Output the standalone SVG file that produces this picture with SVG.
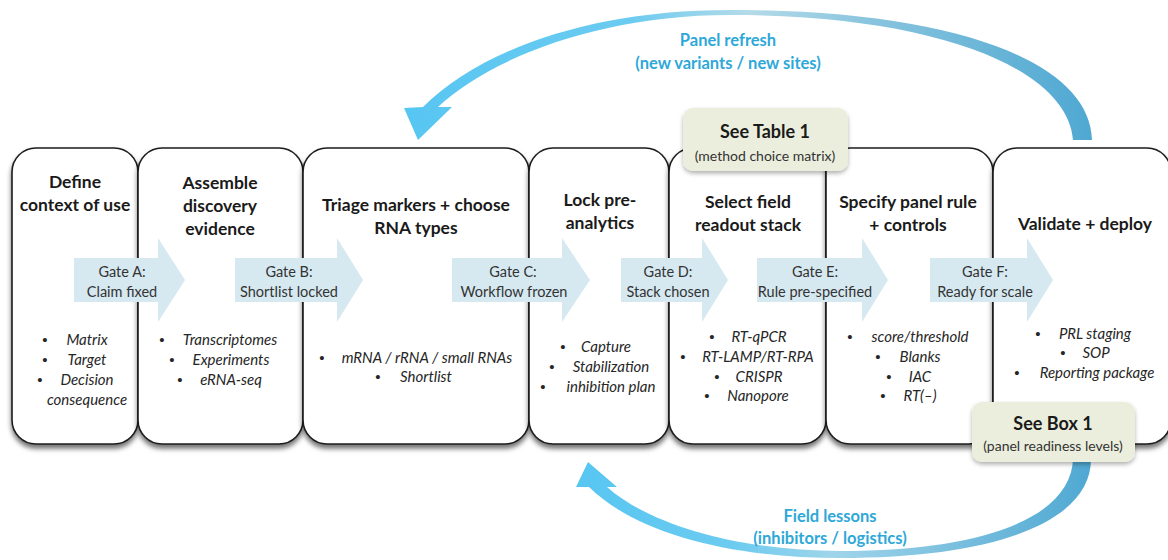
<svg xmlns="http://www.w3.org/2000/svg" width="1168" height="560" viewBox="0 0 1168 560">
  <defs>
    <filter id="boxShadow" x="-10%" y="-10%" width="120%" height="125%">
      <feDropShadow dx="0" dy="4" stdDeviation="2.6" flood-color="#000" flood-opacity="0.55"/>
    </filter>
    <filter id="noteShadow" x="-15%" y="-20%" width="130%" height="150%">
      <feDropShadow dx="0" dy="2.5" stdDeviation="2.2" flood-color="#000" flood-opacity="0.3"/>
    </filter>
    <linearGradient id="loopTop" gradientUnits="userSpaceOnUse" x1="404" y1="0" x2="1092" y2="0">
      <stop offset="0" stop-color="#57c6f2"/>
      <stop offset="0.33" stop-color="#6ccbf0"/>
      <stop offset="0.5" stop-color="#b4dbe8"/>
      <stop offset="0.68" stop-color="#88c4de"/>
      <stop offset="1" stop-color="#4fa8d2"/>
    </linearGradient>
    <linearGradient id="loopBottom" gradientUnits="userSpaceOnUse" x1="577" y1="0" x2="1092" y2="0">
      <stop offset="0" stop-color="#57c6f2"/>
      <stop offset="0.3" stop-color="#6ccbf0"/>
      <stop offset="0.5" stop-color="#9fd5ea"/>
      <stop offset="0.7" stop-color="#7fc2e0"/>
      <stop offset="1" stop-color="#4fa8d2"/>
    </linearGradient>
  </defs>
  <style>
    .stage { fill: #ffffff; stroke: #1c1c1c; stroke-width: 1.6; filter: url(#boxShadow); }
    .title { font-family: Lato, "Liberation Sans", sans-serif; font-weight: bold; font-size: 17.5px; fill: #1a1a1a; text-anchor: middle; }
    .item { font-family: Lato, "Liberation Sans", sans-serif; font-style: italic; font-size: 15px; fill: #262626; text-anchor: middle; }
    .dot { font-family: "Liberation Sans", sans-serif; font-size: 15px; fill: #262626; text-anchor: middle; }
    .gate { fill: #d6e9f1; }
    .gatetext { font-family: Lato, "Liberation Sans", sans-serif; font-size: 14.5px; fill: #333333; text-anchor: middle; }
    .note { fill: #ebeedd; filter: url(#noteShadow); }
    .notehead { font-family: Lato, "Liberation Sans", sans-serif; font-weight: bold; font-size: 18px; fill: #1a1a1a; text-anchor: middle; }
    .notesub { font-family: Lato, "Liberation Sans", sans-serif; font-size: 14px; fill: #333333; text-anchor: middle; }
    .looptext { font-family: Lato, "Liberation Sans", sans-serif; font-weight: bold; font-size: 16.5px; fill: #2ea8d8; text-anchor: middle; }
  </style>

  <rect width="1168" height="560" fill="#ffffff"/>

  <!-- Stage boxes -->
  <g id="stage-define">
    <rect class="stage" x="12" y="148" width="126" height="296" rx="24"/>
    <text class="title" x="75" y="188">Define</text>
    <text class="title" x="75" y="211">context of use</text>
    <text class="dot" x="45" y="345">•</text><text class="item" x="87" y="345">Matrix</text>
    <text class="dot" x="45" y="365">•</text><text class="item" x="87" y="365">Target</text>
    <text class="dot" x="40" y="385">•</text><text class="item" x="87" y="385">Decision</text>
    <text class="item" x="87" y="405">consequence</text>
  </g>

  <g id="stage-assemble">
    <rect class="stage" x="138" y="148" width="165" height="296" rx="24"/>
    <text class="title" x="220" y="189">Assemble</text>
    <text class="title" x="220" y="212">discovery</text>
    <text class="title" x="220" y="235">evidence</text>
    <text class="dot" x="162" y="345">•</text><text class="item" x="230" y="345">Transcriptomes</text>
    <text class="dot" x="172" y="365">•</text><text class="item" x="231" y="365">Experiments</text>
    <text class="dot" x="180" y="385">•</text><text class="item" x="231" y="385">eRNA-seq</text>
  </g>

  <g id="stage-triage">
    <rect class="stage" x="303" y="148" width="226" height="296" rx="24"/>
    <text class="title" x="416" y="211">Triage markers + choose</text>
    <text class="title" x="416" y="234">RNA types</text>
    <text class="dot" x="322" y="363">•</text><text class="item" x="427" y="363">mRNA / rRNA / small RNAs</text>
    <text class="dot" x="378" y="382">•</text><text class="item" x="426" y="382">Shortlist</text>
  </g>

  <g id="stage-preanalytics">
    <rect class="stage" x="529" y="148" width="140" height="296" rx="24"/>
    <text class="title" x="600" y="206">Lock pre-</text>
    <text class="title" x="600" y="229">analytics</text>
    <text class="dot" x="563" y="352">•</text><text class="item" x="606" y="352">Capture</text>
    <text class="dot" x="552" y="372">•</text><text class="item" x="611" y="372">Stabilization</text>
    <text class="dot" x="543" y="392">•</text><text class="item" x="611" y="392">inhibition plan</text>
  </g>

  <g id="stage-readout">
    <rect class="stage" x="669" y="148" width="157" height="296" rx="24"/>
    <text class="title" x="748" y="208">Select field</text>
    <text class="title" x="748" y="231">readout stack</text>
    <text class="dot" x="712" y="342">•</text><text class="item" x="759" y="342">RT-qPCR</text>
    <text class="dot" x="683" y="362">•</text><text class="item" x="758" y="362">RT-LAMP/RT-RPA</text>
    <text class="dot" x="717" y="382">•</text><text class="item" x="759" y="382">CRISPR</text>
    <text class="dot" x="707" y="401">•</text><text class="item" x="758" y="401">Nanopore</text>
  </g>

  <g id="stage-rule">
    <rect class="stage" x="826" y="148" width="167" height="296" rx="24"/>
    <text class="title" x="908" y="208">Specify panel rule</text>
    <text class="title" x="908" y="231">+ controls</text>
    <text class="dot" x="850" y="342">•</text><text class="item" x="920" y="342">score/threshold</text>
    <text class="dot" x="878" y="362">•</text><text class="item" x="920" y="362">Blanks</text>
    <text class="dot" x="889" y="382">•</text><text class="item" x="920" y="382">IAC</text>
    <text class="dot" x="883" y="401">•</text><text class="item" x="920" y="401">RT(–)</text>
  </g>

  <g id="stage-deploy">
    <rect class="stage" x="993" y="148" width="178" height="296" rx="24"/>
    <text class="title" x="1085" y="230">Validate + deploy</text>
    <text class="dot" x="1038" y="339">•</text><text class="item" x="1095" y="339">PRL staging</text>
    <text class="dot" x="1063" y="358">•</text><text class="item" x="1096" y="358">SOP</text>
    <text class="dot" x="1017" y="378">•</text><text class="item" x="1097" y="378">Reporting package</text>
  </g>

  <!-- Connectors: gate arrows and feedback loops -->
  <g id="connectors">
    <g id="gate-a">
      <polygon class="gate" points="74,258 158,258 158,238 185,280 158,322 158,302 74,302"/>
      <text class="gatetext" x="122" y="277">Gate A:</text>
      <text class="gatetext" x="122" y="297">Claim fixed</text>
    </g>
    <g id="gate-b">
      <polygon class="gate" points="235,258 337,258 337,238 363,280 337,322 337,302 235,302"/>
      <text class="gatetext" x="289" y="277">Gate B:</text>
      <text class="gatetext" x="289" y="297">Shortlist locked</text>
    </g>
    <g id="gate-c">
      <polygon class="gate" points="452,258 562,258 562,238 590,280 562,322 562,302 452,302"/>
      <text class="gatetext" x="513" y="277">Gate C:</text>
      <text class="gatetext" x="514" y="297">Workflow  frozen</text>
    </g>
    <g id="gate-d">
      <polygon class="gate" points="621,258 702,258 702,238 728,280 702,322 702,302 621,302"/>
      <text class="gatetext" x="668" y="277">Gate D:</text>
      <text class="gatetext" x="668" y="297">Stack chosen</text>
    </g>
    <g id="gate-e">
      <polygon class="gate" points="757,258 862,258 862,238 888,280 862,322 862,302 757,302"/>
      <text class="gatetext" x="815" y="277">Gate E:</text>
      <text class="gatetext" x="815" y="297">Rule pre-specified</text>
    </g>
    <g id="gate-f">
      <polygon class="gate" points="930,258 1027,258 1027,238 1053,280 1027,322 1027,302 930,302"/>
      <text class="gatetext" x="985" y="277">Gate F:</text>
      <text class="gatetext" x="985" y="297">Ready for scale</text>
    </g>

    <!-- refresh loop over the top, back into triage -->
    <path id="loop-refresh" fill="url(#loopTop)"
          d="M1092,140 C1090,60 950,10 730,10 C590,10 480,50 423,107 L404,108 L418,140 L452,107 L438,107 C490,58 600,15 730,15 C940,15 1068,70 1073,140 Z"/>
    <!-- field lessons loop underneath, back into pre-analytics -->
    <path id="loop-lessons" fill="url(#loopBottom)"
          d="M1091,458 C1092,520 1000,558 840,558 C740,558 640,537 589,487 L576,487 L588,462 L617,487 L607,487 C652,527 745,551 840,551 C990,551 1072,515 1073,458 Z"/>
  </g>

  <g id="label-refresh">
    <text class="looptext" x="728" y="46">Panel refresh</text>
    <text class="looptext" x="728" y="69">(new variants / new sites)</text>
  </g>
  <g id="label-lessons">
    <text class="looptext" x="830" y="522">Field lessons</text>
    <text class="looptext" x="830" y="544">(inhibitors / logistics)</text>
  </g>

  <!-- Reference callouts -->
  <g id="note-table">
    <rect class="note" x="683" y="108" width="165" height="63" rx="10"/>
    <text class="notehead" x="765" y="138">See Table 1</text>
    <text class="notesub" x="765" y="161">(method choice matrix)</text>
  </g>
  <g id="note-box">
    <rect class="note" x="972" y="402" width="163" height="60" rx="10"/>
    <text class="notehead" x="1053" y="430">See Box 1</text>
    <text class="notesub" x="1053" y="451">(panel readiness levels)</text>
  </g>
</svg>
